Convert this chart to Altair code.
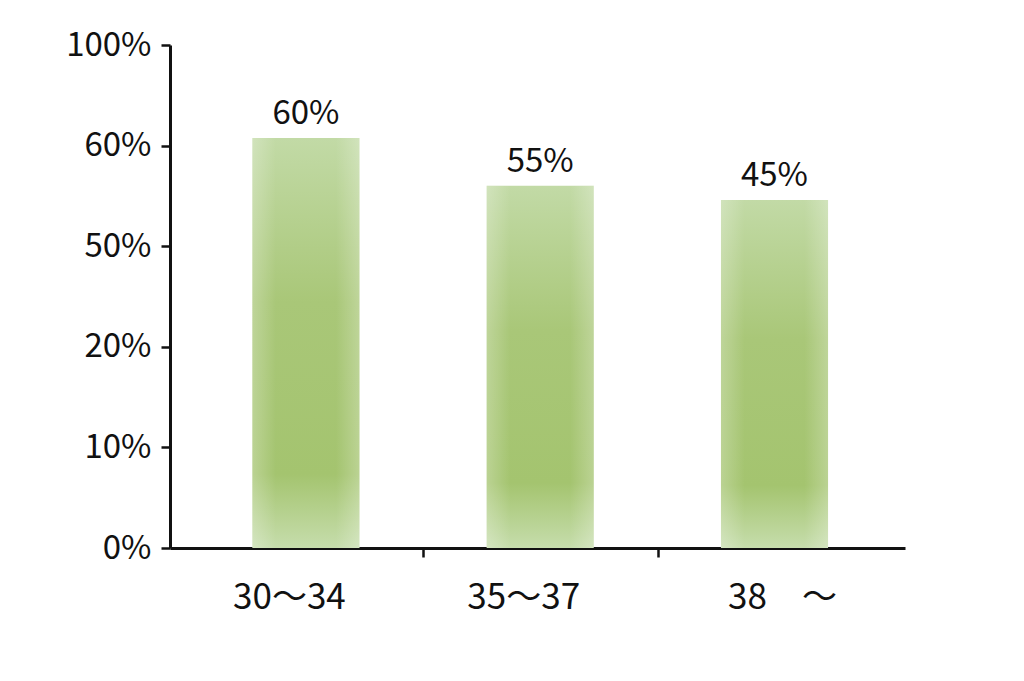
import altair as alt
import pandas as pd

categories = ["30～34", "35～37", "38　～"]
bar_values = [63.0, 56.0, 54.6]
bar_labels = ["60%", "55%", "45%"]
y_ticks = [0, 10, 20, 50, 60, 100]

df = pd.DataFrame({"cat": categories, "val": bar_values, "lab": bar_labels})

H = 503
W = 735
FONT = "Noto Sans CJK JP"

y_range = [H - i * H / (len(y_ticks) - 1) for i in range(len(y_ticks))]

last_test = "datum.value == '%s'" % categories[2]

x_enc = alt.X(
    "cat:N",
    sort=categories,
    title=None,
    scale=alt.Scale(paddingInner=0.543, paddingOuter=0.34, align=0.517),
    axis=alt.Axis(
        labelAngle=0,
        labelFont=FONT,
        labelFontSize=35,
        labelColor="#111111",
        labelPadding=23,
        domainColor="#111111",
        domainWidth=3,
        tickSize=9,
        tickWidth=2.5,
        tickOffset=117.5,
        tickColor={"condition": {"test": last_test, "value": "transparent"}, "value": "#111111"},
        labelOffset={"condition": {"test": last_test, "value": -110}, "value": -134.5},
    ),
)

y_enc = alt.Y(
    "val:Q",
    title=None,
    scale=alt.Scale(domain=y_ticks, range=y_range),
    axis=alt.Axis(
        values=y_ticks,
        labelExpr="datum.value + '%'",
        labelFont=FONT,
        labelFontSize=33,
        labelColor="#111111",
        labelPadding=10,
        domainColor="#111111",
        domainWidth=3,
        tickSize=9,
        tickWidth=2.5,
        tickColor="#111111",
        grid=False,
    ),
)

grad_v = {
    "gradient": "linear",
    "x1": 0, "y1": 0, "x2": 0, "y2": 1,
    "stops": [
        {"offset": 0.0, "color": "#c2daa6"},
        {"offset": 0.4, "color": "#a9c778"},
        {"offset": 0.82, "color": "#a4c46f"},
        {"offset": 1.0, "color": "#c6ddac"},
    ],
}
grad_h = {
    "gradient": "linear",
    "x1": 0, "y1": 0, "x2": 1, "y2": 0,
    "stops": [
        {"offset": 0.0, "color": "rgba(255,255,255,0.25)"},
        {"offset": 0.22, "color": "rgba(255,255,255,0.0)"},
        {"offset": 0.78, "color": "rgba(255,255,255,0.0)"},
        {"offset": 1.0, "color": "rgba(255,255,255,0.25)"},
    ],
}

base = alt.Chart(df)
bars = base.mark_bar(fill=grad_v).encode(x=x_enc, y=y_enc)
sheen = base.mark_bar(fill=grad_h).encode(x=x_enc, y=y_enc)
text = base.mark_text(
    baseline="bottom", dy=-7, fontSize=33, font=FONT, color="#111111"
).encode(x=x_enc, y=y_enc, text="lab:N")

chart = (
    alt.layer(bars, sheen, text)
    .properties(
        width=W,
        height=H,
        autosize=alt.AutoSizeParams(type="none"),
        padding={"left": 162, "top": 37, "right": 100, "bottom": 100},
        background="white",
    )
    .configure_view(stroke=None)
)

chart.save("out.html", embed_options={"renderer": "svg", "actions": False})
